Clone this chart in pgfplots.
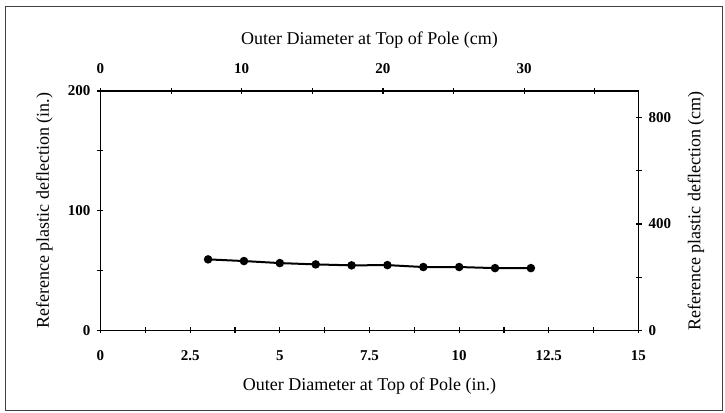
\documentclass[border=0pt]{standalone}
\usepackage{fontspec}
\setmainfont{Liberation Serif}
\usepackage{pgfplots}
\pgfplotsset{compat=1.18}
\begin{document}
\begin{tikzpicture}
\pgfplotsset{
  every axis/.append style={
    scale only axis, width=269pt, height=119.75pt,
    at={(0pt,0pt)}, anchor=south west,
    axis line style={line width=0.7pt},
    tick style={black, line width=0.6pt},
    tick align=center,
    major tick length=3pt, minor tick length=3pt,
    /pgf/number format/assume math mode=true,
    tick label style={font=\fontsize{7.5}{9}\selectfont\bfseries},
    label style={font=\fontsize{9}{10.5}\selectfont},
  }
}
\path[use as bounding box] (-50.25pt,-41.25pt) rectangle (312.25pt,165.25pt);
\draw[line width=0.5pt, black!75] (-47.25pt,-40.25pt) rectangle (311.25pt,161.75pt);
\begin{axis}[
  xmin=0, xmax=15, ymin=0, ymax=200,
  axis x line*=bottom, axis y line*=left,
  xtick={0,2.5,5,7.5,10,12.5,15},
  xticklabels={0,2.5,5,7.5,10,12.5,15},
  minor xtick={1.25,3.75,6.25,8.75,11.25,13.75},
  ytick={0,100,200}, minor ytick={50,150},
  xticklabel style={anchor=center, yshift=-11pt},
  yticklabel style={anchor=east, xshift=0pt},
  xlabel={Outer Diameter at Top of Pole (in.)},
  ylabel={Reference plastic deflection (in.)},
  xlabel style={at={(axis description cs:0.5,0)}, anchor=center, yshift=-28pt},
  ylabel style={at={(axis description cs:0,0.5)}, anchor=center, rotate=0, yshift=28pt},
]
\addplot[black, line width=1pt, mark=*, mark size=1.6pt] coordinates {
  (3,59.4) (4,58.0) (5,56.3) (6,55.2) (7,54.4) (8,54.6) (9,53.0) (10,53.0) (11,52.1) (12,52.1)
};
\end{axis}
\begin{axis}[
  xmin=0, xmax=38.1, ymin=0, ymax=900,
  axis x line*=top, axis y line*=right,
  xtick={0,10,20,30}, minor xtick={5,15,25,35},
  ytick={0,400,800}, minor ytick={200,600},
  xticklabel style={anchor=center, yshift=9.5pt},
  yticklabel style={anchor=west, xshift=0pt},
  xlabel={Outer Diameter at Top of Pole (cm)},
  ylabel={Reference plastic deflection (cm)},
  xlabel style={at={(axis description cs:0.5,1)}, anchor=center, yshift=25.5pt},
  ylabel style={at={(axis description cs:1,0.5)}, anchor=center, yshift=-28.75pt},
]
\end{axis}
\end{tikzpicture}
\end{document}
